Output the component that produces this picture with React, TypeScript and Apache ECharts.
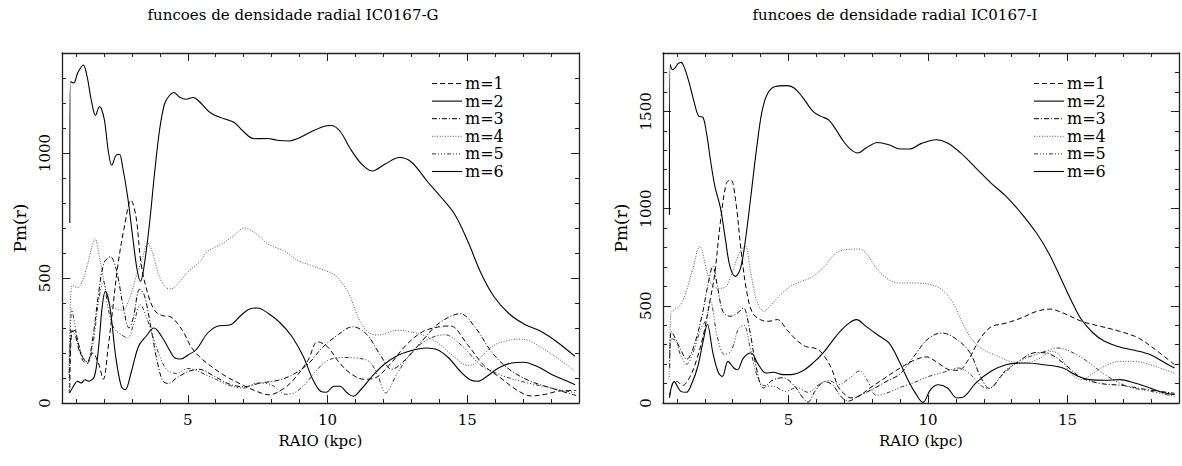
import React, { useEffect, useRef } from "react";
import * as echarts from "echarts";

// ---------- DATA ----------
const seriesNames = ["m=1", "m=2", "m=3", "m=4", "m=5", "m=6"];
const xMajorTicks = [5, 10, 15];
const xMinorTicks = [1, 2, 3, 4, 6, 7, 8, 9, 11, 12, 13, 14, 16, 17, 18];
const yMajorLeft = [0, 500, 1000];
const yMinorLeft = [100, 200, 300, 400, 600, 700, 800, 900, 1100, 1200, 1300];
const yMajorRight = [0, 500, 1000, 1500];
const yMinorRight = [100, 200, 300, 400, 600, 700, 800, 900, 1100, 1200, 1300, 1400, 1600, 1700];
const titleLeft = "funcoes de densidade radial IC0167-G";
const titleRight = "funcoes de densidade radial IC0167-I";

const leftM1 = [[0.78,60],[0.84,280],[0.95,290],[1.06,251],[1.24,171],[1.39,157],[1.6,200],[1.8,160],[1.98,95],[2.14,211],[2.31,371],[2.49,544],[2.73,704],[2.97,811],[3.15,744],[3.33,557],[3.57,437],[3.81,371],[4.05,351],[4.4,344],[4.64,317],[4.88,277],[5.12,224],[5.42,185],[5.8,150],[6.3,111],[7.0,70],[7.5,45],[7.9,33],[8.4,55],[8.8,95],[9.3,170],[9.65,245],[10.0,225],[10.4,165],[10.8,120],[11.3,95],[11.7,100],[12.2,150],[12.8,230],[13.4,285],[14.0,305],[14.4,308],[15.0,235],[15.6,150],[16.2,100],[16.8,50],[17.3,28],[17.8,35],[18.3,48],[18.9,50]];
const leftM2 = [[0.78,720],[0.8,1285],[0.92,1280],[1.06,1320],[1.26,1352],[1.4,1305],[1.55,1210],[1.7,1150],[1.84,1185],[1.9,1180],[2.02,1131],[2.16,1005],[2.28,951],[2.43,990],[2.55,995],[2.67,944],[2.85,824],[3.03,664],[3.19,531],[3.31,487],[3.45,557],[3.63,717],[3.81,917],[3.99,1091],[4.17,1197],[4.35,1231],[4.5,1242],[4.7,1224],[4.94,1215],[5.2,1222],[5.42,1205],[5.82,1160],[6.3,1137],[6.66,1122],[7.01,1084],[7.37,1057],[7.85,1058],[8.2,1051],[8.62,1048],[8.92,1057],[9.4,1084],[9.88,1107],[10.15,1110],[10.47,1084],[10.8,1020],[11.21,957],[11.6,928],[12.05,955],[12.58,982],[13.0,964],[13.59,884],[14.06,824],[14.54,757],[15.01,650],[15.49,520],[15.96,425],[16.5,357],[17.08,313],[17.63,287],[18.18,247],[18.85,187]];
const leftM3 = [[0.76,120],[0.85,290],[0.95,280],[1.15,200],[1.4,165],[1.6,260],[1.8,430],[2.0,560],[2.23,585],[2.45,530],[2.7,380],[2.9,300],[3.05,340],[3.28,455],[3.45,430],[3.7,290],[3.9,170],[4.1,90],[4.3,78],[4.6,100],[5.0,125],[5.4,135],[5.9,110],[6.5,75],[7.0,65],[7.6,80],[8.2,90],[8.7,110],[9.3,155],[9.8,220],[10.4,275],[10.9,305],[11.4,275],[11.9,190],[12.3,135],[12.8,175],[13.4,250],[14.0,320],[14.75,357],[15.3,300],[15.9,200],[16.5,135],[17.2,90],[18.0,60],[18.9,30]];
const leftM4 = [[0.75,100],[0.8,384],[0.88,471],[1.06,461],[1.24,491],[1.42,557],[1.6,637],[1.68,657],[1.84,584],[2.02,477],[2.2,397],[2.43,377],[2.67,371],[2.91,417],[3.15,504],[3.39,584],[3.57,640],[3.75,597],[3.99,504],[4.23,461],[4.41,457],[4.7,484],[5.0,524],[5.42,564],[5.7,605],[6.3,642],[6.66,671],[7.01,700],[7.37,684],[7.85,637],[8.45,608],[8.92,571],[9.4,551],[9.88,531],[10.24,515],[10.53,477],[10.77,437],[11.0,370],[11.21,317],[11.5,280],[11.8,272],[12.05,277],[12.52,291],[13.05,283],[13.59,264],[14.06,231],[14.54,184],[15.01,151],[15.25,155],[15.49,184],[15.96,231],[16.5,251],[16.9,256],[17.3,245],[17.77,213],[18.32,173],[18.85,127]];
const leftM5 = [[0.76,40],[0.85,377],[0.95,320],[1.1,230],[1.4,160],[1.6,230],[1.8,400],[1.98,487],[2.15,380],[2.35,300],[2.6,275],[2.85,260],[3.05,310],[3.3,393],[3.5,350],[3.8,250],[4.2,140],[4.6,118],[5.0,138],[5.3,130],[5.6,115],[6.0,95],[6.5,70],[7.0,60],[7.5,80],[8.0,72],[8.5,35],[8.8,40],[9.2,75],[9.6,130],[10.0,170],[10.5,182],[11.0,180],[11.5,165],[11.8,110],[12.08,40],[12.5,120],[13.1,213],[13.7,260],[14.2,273],[14.8,230],[15.5,150],[16.2,112],[17.0,85],[18.0,60],[18.9,40]];
const leftM6 = [[0.77,40],[0.91,67],[1.05,87],[1.19,80],[1.32,93],[1.46,87],[1.66,107],[1.8,213],[1.94,387],[2.05,447],[2.21,387],[2.42,187],[2.62,67],[2.76,53],[2.97,120],[3.24,227],[3.51,267],[3.79,300],[4.06,267],[4.34,213],[4.54,180],[4.75,176],[5.02,193],[5.3,213],[5.71,280],[6.05,307],[6.53,313],[6.87,347],[7.21,376],[7.49,380],[7.9,357],[8.31,320],[8.72,267],[9.13,187],[9.48,93],[9.75,47],[9.96,43],[10.23,67],[10.44,67],[10.71,40],[10.92,27],[11.19,53],[11.6,107],[12.01,153],[12.56,193],[13.11,213],[13.52,220],[13.93,213],[14.34,180],[14.75,127],[15.1,93],[15.37,87],[15.71,107],[16.12,140],[16.6,160],[17.01,163],[17.49,147],[18.04,113],[18.59,87],[18.86,73]];

const rightM1 = [[0.74,40],[0.85,100],[1.0,110],[1.2,90],[1.45,130],[1.7,220],[1.95,350],[2.15,500],[2.35,660],[2.55,920],[2.77,1130],[2.93,1148],[3.1,1046],[3.31,771],[3.51,566],[3.71,463],[3.99,429],[4.26,420],[4.6,429],[4.94,377],[5.27,326],[5.61,291],[6.02,278],[6.29,240],[6.56,171],[6.77,86],[6.97,51],[7.24,26],[7.51,34],[7.92,77],[8.46,129],[9.0,180],[9.55,223],[9.95,237],[10.36,206],[10.77,171],[11.1,168],[11.45,223],[11.85,326],[12.26,391],[12.8,411],[13.34,437],[13.89,471],[14.36,483],[14.84,463],[15.51,420],[16.19,394],[16.87,369],[17.55,334],[18.23,266],[18.84,197]];
const rightM2 = [[0.73,968],[0.76,1740],[0.84,1714],[0.93,1723],[1.04,1745],[1.14,1752],[1.25,1731],[1.44,1646],[1.61,1551],[1.79,1474],[1.92,1471],[2.06,1388],[2.2,1251],[2.36,1114],[2.56,1003],[2.74,840],[2.9,703],[3.1,651],[3.28,694],[3.44,823],[3.65,1063],[3.85,1303],[4.05,1500],[4.26,1594],[4.53,1628],[4.93,1632],[5.2,1620],[5.48,1577],[5.88,1500],[6.16,1474],[6.43,1457],[6.7,1406],[6.97,1346],[7.24,1303],[7.49,1286],[7.78,1311],[8.19,1340],[8.6,1328],[9.0,1306],[9.34,1306],[9.75,1334],[10.29,1354],[10.7,1337],[11.17,1286],[11.72,1208],[12.26,1131],[12.8,1063],[13.34,977],[13.89,874],[14.36,763],[14.84,617],[15.24,497],[15.51,428],[15.92,360],[16.33,317],[16.87,288],[17.41,271],[17.96,249],[18.5,206],[18.84,180]];
const rightM3 = [[0.74,180],[0.8,370],[0.95,330],[1.15,270],[1.35,225],[1.6,290],[1.9,450],[2.1,600],[2.29,703],[2.45,600],[2.65,470],[2.9,446],[3.15,460],[3.38,489],[3.6,380],[3.85,180],[4.1,77],[4.4,115],[4.8,130],[5.2,90],[5.5,30],[5.7,5],[5.95,60],[6.3,110],[6.6,90],[6.9,30],[7.15,10],[7.5,35],[8.0,70],[8.5,110],[9.0,150],[9.5,240],[10.0,330],[10.5,360],[11.0,330],[11.5,260],[11.9,130],[12.2,75],[12.7,150],[13.3,220],[13.9,260],[14.4,250],[14.9,200],[15.5,130],[16.2,100],[17.0,90],[17.8,70],[18.84,50]];
const rightM4 = [[0.72,120],[0.78,460],[0.9,480],[1.1,500],[1.3,560],[1.55,680],[1.82,806],[2.09,668],[2.29,600],[2.55,590],[2.77,600],[2.97,668],[3.24,771],[3.44,810],[3.65,668],[3.85,531],[4.12,471],[4.33,497],[4.66,549],[5.07,600],[5.48,626],[5.88,651],[6.29,703],[6.7,771],[7.1,789],[7.51,792],[7.78,771],[8.19,686],[8.6,634],[9.0,617],[9.55,617],[10.09,609],[10.5,583],[10.9,514],[11.24,411],[11.58,326],[11.99,274],[12.53,240],[12.94,214],[13.48,206],[14.02,231],[14.43,266],[14.7,249],[15.11,154],[15.51,120],[15.92,154],[16.33,189],[16.87,214],[17.41,214],[17.96,197],[18.5,171],[18.84,154]];
const rightM5 = [[0.74,250],[0.82,330],[0.95,320],[1.15,240],[1.35,200],[1.6,270],[1.85,380],[2.05,430],[2.2,520],[2.45,340],[2.7,250],[2.95,270],[3.2,380],[3.4,400],[3.6,300],[3.85,150],[4.1,90],[4.5,85],[4.9,60],[5.3,80],[5.7,55],[6.1,95],[6.45,115],[6.8,95],[7.2,130],[7.55,165],[7.85,110],[8.15,40],[8.5,50],[9.0,80],[9.5,105],[10.0,135],[10.6,160],[11.1,180],[11.5,150],[11.9,90],[12.15,75],[12.8,170],[13.5,230],[14.2,265],[14.65,283],[15.25,255],[15.8,205],[16.35,145],[17.15,85],[18.0,60],[18.84,34]];
const rightM6 = [[0.73,26],[0.9,110],[1.14,60],[1.34,55],[1.54,103],[1.75,189],[1.95,326],[2.09,405],[2.29,257],[2.49,154],[2.63,137],[2.83,214],[3.04,180],[3.17,171],[3.38,231],[3.65,257],[3.92,197],[4.19,154],[4.46,158],[4.8,146],[5.07,146],[5.48,163],[5.88,206],[6.29,266],[6.7,343],[7.1,403],[7.44,429],[7.78,394],[8.19,351],[8.6,309],[8.94,223],[9.28,120],[9.55,51],[9.82,3],[10.09,69],[10.36,94],[10.7,77],[11.04,26],[11.31,34],[11.72,103],[12.26,163],[12.8,197],[13.48,206],[14.16,197],[14.84,180],[15.38,137],[15.79,120],[16.33,117],[16.87,120],[17.41,103],[17.96,77],[18.5,51],[18.84,43]];

const leftData = [leftM1, leftM2, leftM3, leftM4, leftM5, leftM6];
const rightData = [rightM1, rightM2, rightM3, rightM4, rightM5, rightM6];

// ---------- STYLES ----------
const lineStyles = [
  { color: "#000", width: 1, type: [5, 3] },
  { color: "#000", width: 1.1, type: "solid" },
  { color: "#000", width: 1, type: [5, 2, 1, 2] },
  { color: "#555", width: 1, type: [1, 1.6] },
  { color: "#333", width: 1, type: [4, 2, 1, 2, 1, 2, 1, 2] },
  { color: "#000", width: 1.1, type: "solid" },
];
const SERIF = '"DejaVu Serif", serif';
const frameColor = "#222";
const plainNumber = (v: number) => String(v);

const grids = [
  { left: 62, top: 53, width: 517, height: 350 },
  { left: 663, top: 53, width: 516, height: 350 },
];

function xAxesFor(gi: number) {
  const base = { type: "value", gridIndex: gi, min: 0.5, max: 19, splitLine: { show: false } };
  return [
    {
      ...base,
      position: "bottom",
      axisLine: { show: true, onZero: false, lineStyle: { color: frameColor, width: 1.3 } },
      axisTick: { show: true, inside: true, length: 8, customValues: xMajorTicks, lineStyle: { color: frameColor } },
      axisLabel: { show: true, customValues: xMajorTicks, formatter: plainNumber, margin: 9, fontSize: 15, fontFamily: SERIF, color: "#000" },
      name: "RAIO (kpc)",
      nameLocation: "middle",
      nameGap: 30,
      nameTextStyle: { fontSize: 15, fontFamily: SERIF, color: "#000" },
    },
    {
      ...base,
      position: "bottom",
      axisLine: { show: false, onZero: false },
      axisTick: { show: true, inside: true, length: 4, customValues: xMinorTicks, lineStyle: { color: frameColor } },
      axisLabel: { show: false },
    },
    {
      ...base,
      position: "top",
      axisLine: { show: true, onZero: false, lineStyle: { color: frameColor, width: 1.3 } },
      axisTick: { show: true, inside: true, length: 8, customValues: xMajorTicks, lineStyle: { color: frameColor } },
      axisLabel: { show: false },
    },
    {
      ...base,
      position: "top",
      axisLine: { show: false, onZero: false },
      axisTick: { show: true, inside: true, length: 4, customValues: xMinorTicks, lineStyle: { color: frameColor } },
      axisLabel: { show: false },
    },
  ];
}

function yAxesFor(gi: number, max: number, major: number[], minor: number[]) {
  const base = { type: "value", gridIndex: gi, min: 0, max, splitLine: { show: false } };
  return [
    {
      ...base,
      position: "left",
      axisLine: { show: true, onZero: false, lineStyle: { color: frameColor, width: 1.3 } },
      axisTick: { show: true, inside: true, length: 8, customValues: major, lineStyle: { color: frameColor } },
      axisLabel: { show: true, customValues: major, formatter: plainNumber, rotate: 90, margin: 10, fontSize: 15, fontFamily: SERIF, color: "#000" },
      name: "Pm(r)",
      nameLocation: "middle",
      nameRotate: 90,
      nameGap: 34,
      nameTextStyle: { fontSize: 17, fontFamily: SERIF, color: "#000" },
    },
    {
      ...base,
      position: "left",
      axisLine: { show: false, onZero: false },
      axisTick: { show: true, inside: true, length: 4, customValues: minor, lineStyle: { color: frameColor } },
      axisLabel: { show: false },
    },
    {
      ...base,
      position: "right",
      axisLine: { show: true, onZero: false, lineStyle: { color: frameColor, width: 1.3 } },
      axisTick: { show: true, inside: true, length: 8, customValues: major, lineStyle: { color: frameColor } },
      axisLabel: { show: false },
    },
    {
      ...base,
      position: "right",
      axisLine: { show: false, onZero: false },
      axisTick: { show: true, inside: true, length: 4, customValues: minor, lineStyle: { color: frameColor } },
      axisLabel: { show: false },
    },
  ];
}

function legendGraphics(xStart: number, yStart: number) {
  const els: any[] = [];
  seriesNames.forEach((name, i) => {
    const y = yStart + i * 17.6;
    const ls = lineStyles[i];
    els.push({
      type: "line",
      shape: { x1: xStart, y1: y, x2: xStart + 30, y2: y },
      style: {
        stroke: ls.color,
        lineWidth: ls.width,
        lineDash: Array.isArray(ls.type) ? ls.type : null,
      },
      silent: true,
    });
    els.push({
      type: "text",
      x: xStart + 33,
      y: y,
      style: { text: name, fill: "#000", font: `16px ${SERIF}`, verticalAlign: "middle", align: "left" },
      silent: true,
    });
  });
  return els;
}

export default function App() {
  const ref = useRef<HTMLDivElement>(null);
  useEffect(() => {
    if (!ref.current) return;
    const chart = echarts.init(ref.current, undefined, { renderer: "svg" });
    const series: any[] = [];
    leftData.forEach((d, i) => {
      series.push({
        type: "line",
        name: seriesNames[i],
        xAxisIndex: 0,
        yAxisIndex: 0,
        data: d,
        showSymbol: false,
        smooth: 0.35,
        lineStyle: lineStyles[i],
        silent: true,
      });
    });
    rightData.forEach((d, i) => {
      series.push({
        type: "line",
        name: seriesNames[i],
        xAxisIndex: 4,
        yAxisIndex: 4,
        data: d,
        showSymbol: false,
        smooth: 0.35,
        lineStyle: lineStyles[i],
        silent: true,
      });
    });
    chart.setOption({
      animation: false,
      backgroundColor: "#fff",
      grid: grids,
      xAxis: [...xAxesFor(0), ...xAxesFor(1)],
      yAxis: [
        ...yAxesFor(0, 1400, yMajorLeft, yMinorLeft),
        ...yAxesFor(1, 1800, yMajorRight, yMinorRight),
      ],
      series,
      graphic: [
        {
          type: "text",
          x: 293,
          y: 15,
          style: { text: titleLeft, fill: "#000", font: `15px ${SERIF}`, align: "center", verticalAlign: "middle" },
        },
        {
          type: "text",
          x: 895,
          y: 15,
          style: { text: titleRight, fill: "#000", font: `15px ${SERIF}`, align: "center", verticalAlign: "middle" },
        },
        ...legendGraphics(432, 83.5),
        ...legendGraphics(1034, 83.5),
      ],
    });
    return () => chart.dispose();
  }, []);
  return (
    <div
      ref={ref}
      style={{ position: "absolute", left: 0, top: 0, width: 1182, height: 466, background: "#fff" }}
    />
  );
}
